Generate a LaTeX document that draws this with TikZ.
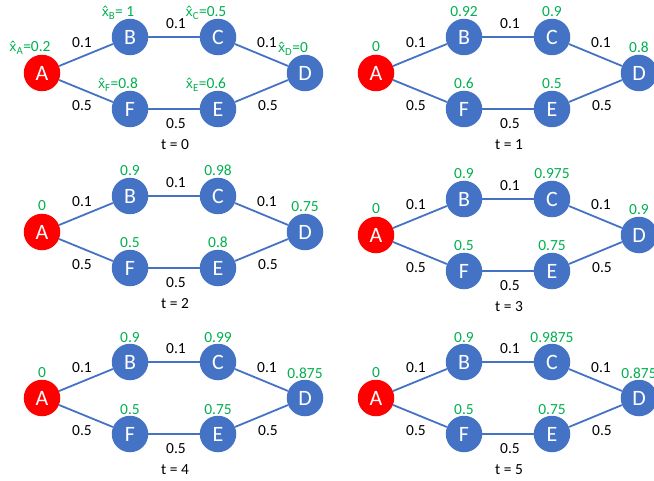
\documentclass[tikz,border=0pt]{standalone}
\usepackage{fontspec}
\setmainfont{Carlito}
\newfontfamily\hatfont[Scale=0.87]{Noto Sans}
\definecolor{nblue}{HTML}{4472C4}
\definecolor{ngreen}{HTML}{00B050}
\tikzset{
  vtx/.style={circle, fill=nblue, minimum size=36.5bp, inner sep=0pt, text=white, font=\fontsize{22}{22}\selectfont},
  src/.style={vtx, fill=red},
  edge/.style={draw=nblue, line width=1.8bp},
  wlab/.style={font=\fontsize{15.5}{16}\selectfont, inner sep=0pt},
  vlab/.style={font=\fontsize{15.5}{16}\selectfont, text=ngreen, inner sep=0pt, anchor=base},
}
\def\lx{0}
\newcommand\hx[1]{{\hatfont x̂}\textsubscript{#1}}
% #1 id/t, #2 ox, #3 oy, #4 A, #5 B, #6 C, #7 D, #8 E, #9 F
\newcommand\drawpanel[9]{%
  \begin{scope}[shift={(#2,#3)}]
    \node[src] (A#1) at (0,0) {A};
    \node[vtx] (B#1) at (88,-36) {B};
    \node[vtx] (C#1) at (176,-36) {C};
    \node[vtx] (D#1) at (263,0) {D};
    \node[vtx] (E#1) at (176,36) {E};
    \node[vtx] (F#1) at (88,36) {F};
    \draw[edge] (A#1) -- (B#1);
    \draw[edge] (B#1) -- (C#1);
    \draw[edge] (C#1) -- (D#1);
    \draw[edge] (A#1) -- (F#1);
    \draw[edge] (F#1) -- (E#1);
    \draw[edge] (E#1) -- (D#1);
    \node[wlab] (wab#1) at (40,-30) {0.1};
    \node[wlab] (wbc#1) at (134,-49) {0.1};
    \node[wlab] (wcd#1) at (225,-30) {0.1};
    \node[wlab] (waf#1) at (40,33) {0.5};
    \node[wlab] (wfe#1) at (134,51) {0.5};
    \node[wlab] (wed#1) at (226,33) {0.5};
    \node[wlab] (t#1) at (133,72) {t = #1};
    \node[vlab] (lA#1) at ([shift={(\lx,-21)}]A#1.center) {#4};
    \node[vlab] (lB#1) at ([shift={(\lx,-20)}]B#1.center) {#5};
    \node[vlab] (lC#1) at ([shift={(\lx,-20)}]C#1.center) {#6};
    \node[vlab] (lD#1) at ([shift={(\lx,-20)}]D#1.center) {#7};
    \node[vlab] (lE#1) at ([shift={(\lx,-20)}]E#1.center) {#8};
    \node[vlab] (lF#1) at ([shift={(\lx,-20)}]F#1.center) {#9};
  \end{scope}}
\begin{document}
\begin{tikzpicture}[x=1bp,y=-1bp]
  \useasboundingbox (0,0) rectangle (654,481);
  \fill[white] (0,0) rectangle (654,481);
  \def\lx{-12}
  \drawpanel{0}{42}{73}{\hx{A}=0.2}{\hx{B}= 1}{\hx{C}=0.5}{\hx{D}=0}{\hx{E}=0.6}{\hx{F}=0.8}
  \def\lx{0}
  \drawpanel{1}{376}{73}{0}{0.92}{0.9}{0.8}{0.5}{0.6}
  \drawpanel{2}{42}{232}{0}{0.9}{0.98}{0.75}{0.8}{0.5}
  \drawpanel{3}{376}{235}{0}{0.9}{0.975}{0.9}{0.75}{0.5}
  \drawpanel{4}{42}{398}{0}{0.9}{0.99}{0.875}{0.75}{0.5}
  \drawpanel{5}{376}{398}{0}{0.9}{0.9875}{0.875}{0.75}{0.5}
\end{tikzpicture}
\end{document}
